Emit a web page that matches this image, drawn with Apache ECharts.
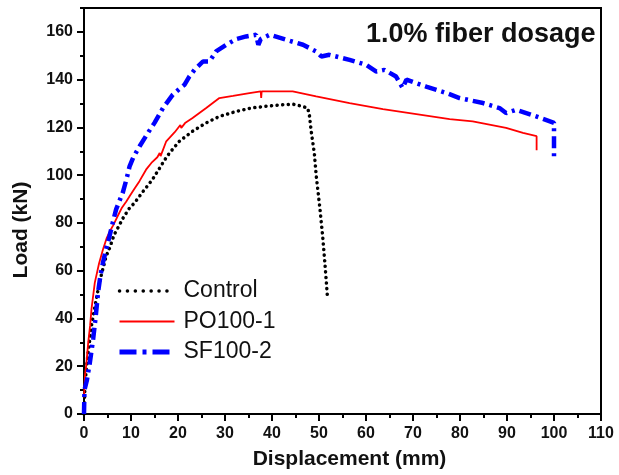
<!DOCTYPE html>
<html>
<head>
<meta charset="utf-8">
<script src="https://cdn.jsdelivr.net/npm/echarts@6/dist/echarts.min.js"></script>
<style>
  html, body { margin: 0; padding: 0; background: #fff; }
  #chart { width: 619px; height: 475px; }
</style>
</head>
<body>
<div id="chart"></div>
<script>
// [displacement (mm), load (kN)]
var controlData = [
  [0, 0], [0.2, 12], [0.5, 19], [0.9, 26], [1.6, 37], [2.6, 48], [3.4, 56], [4.05, 61],
  [4.7, 66], [5.45, 69.5], [6.4, 75], [7.5, 79], [8.3, 82], [9.6, 86], [10.8, 88.5],
  [12.3, 92.5], [13.5, 95.5], [14.5, 98], [16.1, 103], [17.2, 106.5], [18.2, 109.3],
  [20.3, 114.2], [23.1, 118.4], [26, 121.9], [28.8, 124.6], [32.4, 126.7], [35.5, 128.1],
  [39, 128.9], [42.3, 129.5], [44.5, 129.7], [45.9, 129.1], [47.6, 128.1], [48, 124.6],
  [48.3, 119], [49, 109.3], [49.4, 100], [50.2, 86], [50.8, 74], [51.3, 62], [51.8, 49]
]
var po100Data = [
  [0, 7], [0.2, 16], [0.5, 21], [0.9, 30], [1.3, 37], [1.6, 44], [2.3, 55], [3.2, 63],
  [4.05, 69], [4.8, 73.5], [5.5, 76.5], [6.2, 79], [7.2, 83], [8.1, 86.5], [9, 89],
  [9.8, 91.5], [10.8, 94.5], [11.8, 97.5], [13.2, 102.3], [14.5, 105.5], [15.6, 107.5],
  [16.1, 109.3], [16.3, 108], [17.5, 114.2], [19.3, 118], [20.5, 121], [20.7, 119.8],
  [21.5, 121.8], [23.1, 123.9], [26, 128.1], [28.8, 132.3], [31.7, 133.2], [35.2, 134.4],
  [37.6, 135.1], [37.7, 132.3], [37.8, 135.1], [44.4, 135.1], [49.4, 133], [56.5, 130.2],
  [63.6, 127.7], [70.7, 125.6], [77.8, 123.5], [82.7, 122.5], [89.8, 119.8], [93.4, 117.7],
  [96.3, 116.3], [96.3, 110.4]
]
var sf100Data = [
  [0, 0], [0.1, 10], [0.6, 14], [1.25, 21.6], [1.95, 31.4], [2.5, 41], [3, 51], [3.5, 58],
  [4.05, 63.5], [4.7, 69], [5.45, 74.6], [6.1, 80], [6.85, 85.8], [7.5, 89], [8.25, 92.7],
  [9, 98], [9.7, 103.7], [10.5, 107.5], [11.8, 112], [13.6, 117.7], [15, 121.9],
  [16.8, 128.1], [18.9, 133.7], [20.5, 136.5], [21.4, 137.9], [22.4, 141.3], [23.5, 144.1],
  [25.3, 147.6], [26.7, 147.6], [28.1, 151.8], [30.3, 154.6], [32.4, 157], [34.5, 158.1],
  [36.6, 158.8], [37.1, 154.6], [37.6, 157], [39.5, 158.8], [43, 156.7], [46.6, 154.6],
  [49.4, 151.8], [50.5, 149.7], [52.2, 150.4], [56.5, 148.3], [60, 146.2], [62.2, 143.4],
  [63.9, 144.1], [66.4, 141.3], [67.8, 136.5], [68.6, 140], [72.8, 137.1], [77.1, 134.4],
  [79.9, 132.3], [84.9, 130.2], [88.4, 128.1], [89.8, 126], [92, 127.4], [96.2, 124.6],
  [100, 121.9], [100, 107.9]
]
var seriesNames = ['Control', 'PO100-1', 'SF100-2']
var titleText = '1.0% fiber dosage'

var font = 'Liberation Sans'
var chart = echarts.init(document.getElementById('chart'))

var option = {
  animation: false,
  backgroundColor: '#fff',
  title: {
    text: titleText,
    left: 366,
    top: 21,
    padding: 0,
    textStyle: { fontFamily: font, fontSize: 27, fontWeight: 'bold', color: '#111' }
  },
  legend: {
    orient: 'vertical',
    left: 117,
    top: 279,
    padding: 0,
    itemWidth: 55,
    itemHeight: 14,
    itemGap: 6.5,
    data: [
      { name: seriesNames[0], lineStyle: { width: 3.5, type: [0.1, 7.8], cap: 'round' } },
      { name: seriesNames[1], lineStyle: { width: 2 } },
      { name: seriesNames[2], lineStyle: { width: 5, type: [17, 6, 4, 6] } }
    ],
    itemStyle: { opacity: 0 }, // hide the marker dot, keep the line
    lineStyle: { width: 'inherit' },
    textStyle: { fontFamily: font, fontSize: 23, color: '#111', lineHeight: 24, padding: [0, 0, 0, 4] }
  },
  grid: {
    left: 84, right: 18, top: 8, bottom: 59,
    show: true, borderColor: '#000', borderWidth: 2
  },
  xAxis: {
    type: 'value',
    min: 0, max: 110, interval: 10,
    name: 'Displacement (mm)',
    nameLocation: 'middle',
    nameGap: 35,
    nameTextStyle: { fontFamily: font, fontSize: 21, fontWeight: 'bold', color: '#111', padding: [0, 0, 0, 14] },
    axisLine: { show: true, lineStyle: { color: '#000', width: 2 } },
    axisTick: { show: true, length: 7, lineStyle: { color: '#000', width: 2 } },
    minorTick: { show: true, splitNumber: 2, length: 4, lineStyle: { color: '#000', width: 2 } },
    axisLabel: { margin: 12, fontFamily: font, fontSize: 16, fontWeight: 'bold', color: '#111' },
    splitLine: { show: false }
  },
  yAxis: [
    {
      type: 'value',
      position: 'left',
      min: 0, max: 170, interval: 20,
      name: 'Load (kN)',
      nameLocation: 'middle',
      nameGap: 52,
      nameTextStyle: { fontFamily: font, fontSize: 21, fontWeight: 'bold', color: '#111', padding: [0, 38, 0, 0] },
      axisLine: { show: true, lineStyle: { color: '#000', width: 2 } },
      axisTick: { show: true, length: 7, lineStyle: { color: '#000', width: 2 } },
      axisLabel: { margin: 11, showMaxLabel: false, fontFamily: font, fontSize: 16, fontWeight: 'bold', color: '#111' },
      splitLine: { show: false }
    },
    {
      // short ticks every 10 kN
      type: 'value',
      position: 'left',
      min: 0, max: 170, interval: 10,
      axisLine: { show: false },
      axisTick: { show: true, length: 4, lineStyle: { color: '#000', width: 2 } },
      axisLabel: { show: false },
      splitLine: { show: false }
    }
  ],
  series: [
    {
      name: seriesNames[0],
      type: 'line',
      data: controlData,
      symbol: 'none',
      color: '#000',
      lineStyle: { color: '#000', width: 3.5, type: [0.1, 5.5], cap: 'round' }
    },
    {
      name: seriesNames[1],
      type: 'line',
      data: po100Data,
      symbol: 'none',
      color: '#ff0000',
      lineStyle: { color: '#ff0000', width: 1.8 }
    },
    {
      name: seriesNames[2],
      type: 'line',
      data: sf100Data,
      symbol: 'none',
      color: '#0000ff',
      lineStyle: { color: '#0000ff', width: 4.5, type: [12, 5, 3, 5] }
    }
  ]
}
chart.setOption(option)
</script>
</body>
</html>
